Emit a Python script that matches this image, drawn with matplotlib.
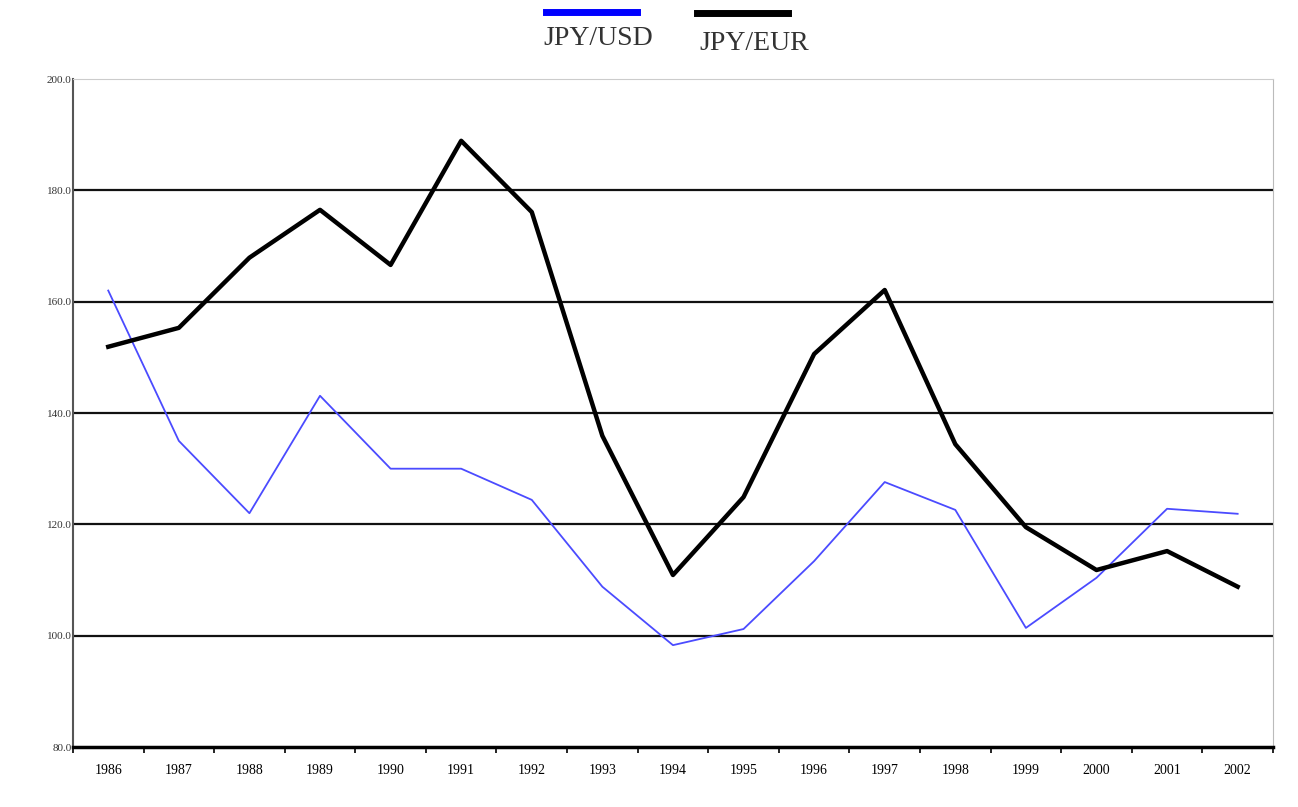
import matplotlib
matplotlib.use('Agg')
import matplotlib.pyplot as plt
from matplotlib.lines import Line2D

plt.rcParams['font.family'] = 'Liberation Serif'

# Yearly exchange rates
years = ['1986', '1987', '1988', '1989', '1990', '1991', '1992', '1993', '1994',
         '1995', '1996', '1997', '1998', '1999', '2000', '2001', '2002']
jpy_usd = [162.0, 135.0, 122.0, 143.1, 130.0, 130.0, 124.4, 108.8, 98.3,
           101.2, 113.4, 127.6, 122.6, 101.4, 110.4, 122.8, 121.9]
jpy_eur = [151.9, 155.3, 167.9, 176.5, 166.6, 188.9, 176.1, 135.9, 110.9,
           124.9, 150.6, 162.1, 134.4, 119.5, 111.8, 115.2, 108.8]
yticks = [80, 100, 120, 140, 160, 180, 200]

fig = plt.figure(figsize=(12.98, 8.07), dpi=100)
ax = fig.add_axes([0.0562, 0.0743, 0.9245, 0.8278])

x = list(range(len(years)))
ax.plot(x, jpy_usd, color='#4b4bff', lw=1.3, zorder=3)
ax.plot(x, jpy_eur, color='black', lw=3.2, zorder=4)

ax.set_xlim(-0.5, len(years) - 0.5)
ax.set_ylim(80, 200)
ax.set_yticks(yticks)
ax.set_yticklabels([f'{v:.1f}' for v in yticks], fontsize=8, color='#333333')
ax.tick_params(axis='y', length=0, pad=1)

# category labels between boundary ticks
ax.set_xticks(x)
ax.set_xticklabels(years, fontsize=10)
ax.tick_params(axis='x', which='major', length=0, pad=12)
ax.set_xticks([i - 0.5 for i in range(len(years) + 1)], minor=True)
ax.tick_params(axis='x', which='minor', length=4, width=1.2, direction='out')

for v in yticks[1:-1]:
    ax.axhline(v, color='#111111', lw=1.6, zorder=1)

ax.spines['top'].set_color('#cccccc')
ax.spines['right'].set_color('#bbbbbb')
ax.spines['left'].set_color('#555555')
ax.spines['left'].set_linewidth(1.5)
ax.spines['bottom'].set_color('black')
ax.spines['bottom'].set_linewidth(2.5)

# legend at the top: sample line above each label
fig.add_artist(Line2D([0.421, 0.491], [0.985, 0.985], color='blue', lw=5,
                      transform=fig.transFigure))
fig.text(0.461, 0.952, 'JPY/USD', ha='center', va='center', fontsize=20,
         color='#333333')
fig.add_artist(Line2D([0.537, 0.607], [0.984, 0.984], color='black', lw=5,
                      transform=fig.transFigure))
fig.text(0.581, 0.946, 'JPY/EUR', ha='center', va='center', fontsize=20,
         color='#333333')

fig.savefig('out.png', dpi=100)
